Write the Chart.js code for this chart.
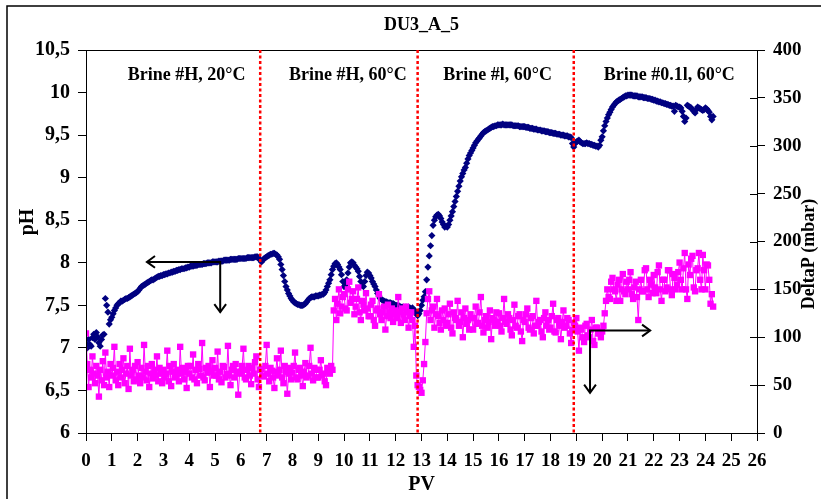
<!DOCTYPE html>
<html>
<head>
<meta charset="utf-8">
<script src="https://cdn.jsdelivr.net/npm/chart.js@4/dist/chart.umd.min.js"></script>
<style>
html, body { margin: 0; padding: 0; background: #fff; }
#wrap { width: 821px; height: 499px; }
</style>
</head>
<body>
<div id="wrap"><canvas id="chart" width="821" height="499"></canvas></div>
<script>
// PV (pore volumes injected), one reading every 0.05 PV
const pv = [
  0,0.05,0.1,0.15,0.2,0.25,0.3,0.35,0.4,0.45,0.5,0.55,0.6,0.65,0.7,0.75,0.8,0.85,0.9,0.95,
  1,1.05,1.1,1.15,1.2,1.25,1.3,1.35,1.4,1.45,1.5,1.55,1.6,1.65,1.7,1.75,1.8,1.85,1.9,1.95,
  2,2.05,2.1,2.15,2.2,2.25,2.3,2.35,2.4,2.45,2.5,2.55,2.6,2.65,2.7,2.75,2.8,2.85,2.9,2.95,
  3,3.05,3.1,3.15,3.2,3.25,3.3,3.35,3.4,3.45,3.5,3.55,3.6,3.65,3.7,3.75,3.8,3.85,3.9,3.95,
  4,4.05,4.1,4.15,4.2,4.25,4.3,4.35,4.4,4.45,4.5,4.55,4.6,4.65,4.7,4.75,4.8,4.85,4.9,4.95,
  5,5.05,5.1,5.15,5.2,5.25,5.3,5.35,5.4,5.45,5.5,5.55,5.6,5.65,5.7,5.75,5.8,5.85,5.9,5.95,
  6,6.05,6.1,6.15,6.2,6.25,6.3,6.35,6.4,6.45,6.5,6.55,6.6,6.65,6.7,6.75,6.8,6.85,6.9,6.95,
  7,7.05,7.1,7.15,7.2,7.25,7.3,7.35,7.4,7.45,7.5,7.55,7.6,7.65,7.7,7.75,7.8,7.85,7.9,7.95,
  8,8.05,8.1,8.15,8.2,8.25,8.3,8.35,8.4,8.45,8.5,8.55,8.6,8.65,8.7,8.75,8.8,8.85,8.9,8.95,
  9,9.05,9.1,9.15,9.2,9.25,9.3,9.35,9.4,9.45,9.5,9.55,9.6,9.65,9.7,9.75,9.8,9.85,9.9,9.95,
  10,10.05,10.1,10.15,10.2,10.25,10.3,10.35,10.4,10.45,10.5,10.55,10.6,10.65,10.7,10.75,10.8,10.85,10.9,10.95,
  11,11.05,11.1,11.15,11.2,11.25,11.3,11.35,11.4,11.45,11.5,11.55,11.6,11.65,11.7,11.75,11.8,11.85,11.9,11.95,
  12,12.05,12.1,12.15,12.2,12.25,12.3,12.35,12.4,12.45,12.5,12.55,12.6,12.65,12.7,12.75,12.8,12.85,12.9,12.95,
  13,13.05,13.1,13.15,13.2,13.25,13.3,13.35,13.4,13.45,13.5,13.55,13.6,13.65,13.7,13.75,13.8,13.85,13.9,13.95,
  14,14.05,14.1,14.15,14.2,14.25,14.3,14.35,14.4,14.45,14.5,14.55,14.6,14.65,14.7,14.75,14.8,14.85,14.9,14.95,
  15,15.05,15.1,15.15,15.2,15.25,15.3,15.35,15.4,15.45,15.5,15.55,15.6,15.65,15.7,15.75,15.8,15.85,15.9,15.95,
  16,16.05,16.1,16.15,16.2,16.25,16.3,16.35,16.4,16.45,16.5,16.55,16.6,16.65,16.7,16.75,16.8,16.85,16.9,16.95,
  17,17.05,17.1,17.15,17.2,17.25,17.3,17.35,17.4,17.45,17.5,17.55,17.6,17.65,17.7,17.75,17.8,17.85,17.9,17.95,
  18,18.05,18.1,18.15,18.2,18.25,18.3,18.35,18.4,18.45,18.5,18.55,18.6,18.65,18.7,18.75,18.8,18.85,18.9,18.95,
  19,19.05,19.1,19.15,19.2,19.25,19.3,19.35,19.4,19.45,19.5,19.55,19.6,19.65,19.7,19.75,19.8,19.85,19.9,19.95,
  20,20.05,20.1,20.15,20.2,20.25,20.3,20.35,20.4,20.45,20.5,20.55,20.6,20.65,20.7,20.75,20.8,20.85,20.9,20.95,
  21,21.05,21.1,21.15,21.2,21.25,21.3,21.35,21.4,21.45,21.5,21.55,21.6,21.65,21.7,21.75,21.8,21.85,21.9,21.95,
  22,22.05,22.1,22.15,22.2,22.25,22.3,22.35,22.4,22.45,22.5,22.55,22.6,22.65,22.7,22.75,22.8,22.85,22.9,22.95,
  23,23.05,23.1,23.15,23.2,23.25,23.3,23.35,23.4,23.45,23.5,23.55,23.6,23.65,23.7,23.75,23.8,23.85,23.9,23.95,
  24,24.05,24.1,24.15,24.2,24.25,24.3
];

// pH (left axis)
const ph = [
  7.05,7.00,7.10,7.04,7.02,7.12,7.16,7.10,7.18,7.13,7.06,7.02,7.10,7.15,7.16,7.58,7.50,7.42,7.28,7.33,
  7.36,7.40,7.44,7.47,7.50,7.52,7.53,7.55,7.55,7.56,7.57,7.58,7.58,7.59,7.60,7.61,7.62,7.63,7.64,7.65,
  7.66,7.68,7.70,7.72,7.73,7.74,7.75,7.76,7.77,7.78,7.79,7.80,7.80,7.81,7.82,7.83,7.84,7.84,7.85,7.85,
  7.86,7.86,7.87,7.87,7.88,7.88,7.89,7.89,7.90,7.90,7.91,7.91,7.92,7.92,7.93,7.93,7.93,7.94,7.94,7.95,
  7.95,7.96,7.96,7.96,7.97,7.97,7.97,7.98,7.98,7.98,7.98,7.99,7.99,7.99,8.00,8.00,8.00,8.00,8.01,8.01,
  8.01,8.01,8.01,8.02,8.02,8.02,8.02,8.03,8.03,8.03,8.03,8.03,8.04,8.04,8.04,8.04,8.04,8.04,8.05,8.05,
  8.05,8.05,8.05,8.05,8.05,8.06,8.06,8.06,8.06,8.06,8.06,8.07,8.07,8.07,8.05,8.03,8.01,8.03,8.05,8.06,
  8.07,8.08,8.09,8.10,8.10,8.11,8.11,8.10,8.09,8.07,8.04,7.98,7.92,7.85,7.78,7.72,7.68,7.64,7.61,7.58,
  7.56,7.54,7.53,7.52,7.51,7.51,7.50,7.50,7.50,7.51,7.52,7.54,7.56,7.58,7.59,7.60,7.60,7.60,7.61,7.61,
  7.61,7.62,7.62,7.63,7.63,7.65,7.68,7.72,7.76,7.80,7.86,7.92,7.96,7.99,8.00,7.98,7.95,7.92,7.86,7.78,
  7.72,7.74,7.80,7.88,7.95,8.00,8.01,8.00,7.97,7.95,7.93,7.90,7.84,7.78,7.73,7.72,7.78,7.85,7.89,7.88,
  7.85,7.82,7.78,7.75,7.72,7.68,7.64,7.61,7.58,7.57,7.56,7.55,7.54,7.54,7.53,7.53,7.53,7.52,7.52,7.51,
  7.50,7.50,7.49,7.49,7.48,7.48,7.48,7.47,7.48,7.47,7.48,7.47,7.46,7.47,7.45,7.42,7.40,7.38,7.40,7.44,
  7.50,7.56,7.60,7.66,7.80,7.95,8.08,8.20,8.32,8.44,8.50,8.54,8.56,8.57,8.55,8.52,8.48,8.45,8.42,8.43,
  8.42,8.45,8.50,8.55,8.60,8.66,8.72,8.78,8.84,8.90,8.96,9.01,9.05,9.09,9.12,9.17,9.22,9.26,9.29,9.32,
  9.35,9.38,9.41,9.43,9.45,9.47,9.49,9.51,9.53,9.54,9.55,9.56,9.57,9.58,9.59,9.60,9.60,9.61,9.61,9.62,
  9.62,9.62,9.62,9.63,9.62,9.62,9.62,9.62,9.62,9.62,9.62,9.61,9.61,9.61,9.61,9.61,9.60,9.60,9.60,9.60,
  9.60,9.59,9.59,9.59,9.58,9.58,9.58,9.57,9.57,9.57,9.56,9.56,9.56,9.55,9.55,9.55,9.54,9.54,9.54,9.53,
  9.53,9.53,9.52,9.52,9.52,9.51,9.51,9.51,9.50,9.50,9.50,9.49,9.49,9.49,9.48,9.48,9.47,9.40,9.36,9.40,
  9.42,9.43,9.44,9.42,9.41,9.40,9.40,9.40,9.41,9.40,9.40,9.39,9.39,9.38,9.38,9.37,9.37,9.36,9.38,9.44,
  9.48,9.55,9.61,9.66,9.70,9.74,9.77,9.80,9.83,9.85,9.87,9.89,9.90,9.91,9.92,9.93,9.94,9.95,9.96,9.96,
  9.97,9.97,9.97,9.97,9.96,9.96,9.96,9.96,9.95,9.95,9.95,9.95,9.94,9.94,9.94,9.93,9.93,9.93,9.92,9.92,
  9.91,9.91,9.90,9.90,9.89,9.89,9.88,9.88,9.87,9.87,9.86,9.86,9.85,9.85,9.84,9.84,9.78,9.85,9.84,9.83,
  9.83,9.82,9.78,9.72,9.66,9.70,9.85,9.84,9.83,9.82,9.80,9.78,9.76,9.80,9.83,9.82,9.81,9.80,9.79,9.80,
  9.82,9.81,9.79,9.77,9.72,9.68,9.72
];

// DeltaP in mbar (right axis)
const deltaP = [
  104,72,48,66,58,80,62,52,70,60,38,66,55,75,50,84,58,64,48,72,
  60,68,90,55,64,50,72,58,66,78,52,62,70,46,88,60,66,54,70,56,
  74,60,52,68,58,92,64,55,70,48,62,72,57,66,60,80,54,68,62,52,
  66,58,62,86,54,70,49,64,72,58,61,66,54,90,62,68,56,64,47,70,
  62,70,58,82,56,66,52,72,67,60,94,58,55,68,63,70,48,64,76,60,
  68,60,85,56,64,53,70,69,58,62,91,60,50,66,70,58,72,64,40,62,
  64,70,88,58,56,66,70,60,51,68,62,74,80,56,48,66,67,60,59,70,
  92,62,54,68,65,58,47,64,78,60,66,86,58,52,70,64,41,62,68,56,
  63,70,84,58,56,66,68,60,49,64,73,58,60,70,89,62,55,68,66,58,
  58,66,76,60,62,54,50,68,64,62,70,66,128,140,118,135,150,125,132,142,
  145,130,128,150,158,136,140,148,124,132,140,152,126,118,138,134,128,146,130,122,
  122,134,138,118,112,128,130,145,124,118,126,132,108,122,134,126,120,130,116,124,
  128,120,142,126,115,130,124,118,132,126,110,122,126,118,90,112,60,50,48,45,
  42,55,72,95,125,140,148,118,128,132,110,124,140,122,115,108,128,118,130,112,
  115,124,135,110,104,126,120,118,138,112,116,126,100,120,130,114,118,108,124,120,
  108,120,132,114,115,126,142,112,105,118,122,110,116,128,98,120,118,112,126,116,
  125,112,106,120,140,116,114,124,120,108,102,118,134,112,110,122,124,106,96,118,
  116,124,130,110,108,120,122,104,112,138,112,116,118,106,100,120,126,112,118,108,
  110,122,135,106,105,118,120,112,98,116,128,110,112,120,118,104,94,108,115,112,
  120,106,86,110,108,100,95,112,114,102,100,108,118,96,92,110,110,104,104,100,
  106,112,125,138,150,142,140,158,162,150,148,138,155,160,138,150,166,148,145,158,
  150,160,168,145,140,152,158,142,118,150,160,148,148,170,172,150,142,160,155,146,
  165,152,146,168,175,150,138,160,160,148,152,170,170,150,144,166,162,150,155,168,
  178,160,150,172,188,150,140,176,165,182,185,152,148,170,172,188,160,150,186,170,
  150,176,175,160,135,145,132
];

// brine switches (PV) and stage names
const switchPV = [6.75, 12.85, 18.9];
const stages = ["Brine #H, 20°C", "Brine #H, 60°C", "Brine #l, 60°C", "Brine #0.1l, 60°C"];
const stageX = [3.9, 10.15, 15.95, 22.6];

const FONT = "'Liberation Serif', 'Times New Roman', serif";

function arrowHead(ctx, x, y, dir) {
  // dir: angle the arrow points to
  const len = 10, a = Math.PI / 5;
  ctx.beginPath();
  ctx.moveTo(x - len * Math.cos(dir - a), y - len * Math.sin(dir - a));
  ctx.lineTo(x, y);
  ctx.lineTo(x - len * Math.cos(dir + a), y - len * Math.sin(dir + a));
  ctx.stroke();
}

function elbowArrow(ctx, cx, cy, hx, vy) {
  ctx.beginPath();
  ctx.moveTo(hx, cy);
  ctx.lineTo(cx, cy);
  ctx.lineTo(cx, vy);
  ctx.stroke();
  arrowHead(ctx, hx, cy, hx < cx ? Math.PI : 0);
  arrowHead(ctx, cx, vy, Math.PI / 2);
}

const decor = {
  id: "decor",
  afterDraw(c) {
    const ctx = c.ctx, a = c.chartArea;
    const x = c.scales.x, y = c.scales.y, y2 = c.scales.y2;
    ctx.save();

    // outer frame
    ctx.strokeStyle = "#000";
    ctx.lineWidth = 1.5;
    ctx.strokeRect(7, 6, 900, 600);

    // plot box
    ctx.lineWidth = 1;
    ctx.strokeRect(a.left + 0.5, a.top + 0.5, a.right - a.left, a.bottom - a.top);

    // right axis ticks reach into the plot too
    y2.ticks.forEach((t) => {
      const py = Math.round(y2.getPixelForValue(t.value)) + 0.5;
      ctx.beginPath();
      ctx.moveTo(a.right - 7, py);
      ctx.lineTo(a.right, py);
      ctx.stroke();
    });

    // brine switch lines
    ctx.strokeStyle = "#ff0000";
    ctx.lineWidth = 2.5;
    ctx.setLineDash([3, 2.5]);
    switchPV.forEach((v) => {
      const px = x.getPixelForValue(v);
      ctx.beginPath();
      ctx.moveTo(px, a.top);
      ctx.lineTo(px, a.bottom);
      ctx.stroke();
    });
    ctx.setLineDash([]);

    // stage labels
    ctx.fillStyle = "#000";
    ctx.font = "bold 18px " + FONT;
    ctx.textAlign = "center";
    ctx.textBaseline = "middle";
    stages.forEach((s, i) => ctx.fillText(s, x.getPixelForValue(stageX[i]), 75));

    // axis pointers
    ctx.strokeStyle = "#000";
    ctx.lineWidth = 2;
    elbowArrow(ctx, x.getPixelForValue(5.2), y.getPixelForValue(8.01),
      x.getPixelForValue(2.36), y.getPixelForValue(7.42));
    elbowArrow(ctx, x.getPixelForValue(19.53), y2.getPixelForValue(107),
      x.getPixelForValue(21.86), y2.getPixelForValue(42));

    // titles
    ctx.font = "bold 18px " + FONT;
    ctx.fillText("DU3_A_5", (a.left + a.right) / 2, 25);
    ctx.font = "bold 20px " + FONT;
    ctx.fillText("PV", (a.left + a.right) / 2, 485);

    ctx.save();
    ctx.translate(28, 222);
    ctx.rotate(-Math.PI / 2);
    ctx.fillText("pH", 0, 0);
    ctx.restore();

    ctx.save();
    ctx.font = "bold 18px " + FONT;
    ctx.translate(809, 254);
    ctx.rotate(-Math.PI / 2);
    ctx.fillText("DeltaP (mbar)", 0, 0);
    ctx.restore();

    ctx.restore();
  }
};

const tickFont = { family: FONT, size: 19, weight: "bold" };

new Chart(document.getElementById("chart").getContext("2d"), {
  type: "scatter",
  data: {
    datasets: [
      {
        label: "DeltaP",
        data: pv.map((v, i) => ({ x: v, y: deltaP[i] })),
        yAxisID: "y2",
        showLine: true,
        borderColor: "#ff00ff",
        backgroundColor: "#ff00ff",
        borderWidth: 1,
        pointStyle: "rect",
        pointRadius: 4.5,
        pointBorderWidth: 0,
        order: 1
      },
      {
        label: "pH",
        data: pv.map((v, i) => ({ x: v, y: ph[i] })),
        yAxisID: "y",
        showLine: false,
        borderColor: "#000080",
        backgroundColor: "#000080",
        pointStyle: "rectRot",
        pointRadius: 3.6,
        pointBorderWidth: 0,
        order: 2
      }
    ]
  },
  options: {
    responsive: false,
    animation: false,
    devicePixelRatio: 1,
    layout: { padding: { top: 50, left: 0, right: 0, bottom: 0 } },
    plugins: { legend: { display: false }, tooltip: { enabled: false } },
    scales: {
      x: {
        type: "linear",
        min: 0,
        max: 26,
        ticks: { stepSize: 1, autoSkip: false, maxRotation: 0, color: "#000", font: tickFont, padding: 9 },
        grid: { drawOnChartArea: false, tickLength: 8, color: "#000" },
        border: { color: "#000", width: 1 },
        afterFit(s) { s.height = 66; }
      },
      y: {
        position: "left",
        min: 6,
        max: 10.5,
        ticks: {
          stepSize: 0.5,
          color: "#000",
          font: { family: FONT, size: 20, weight: "bold" },
          padding: 8,
          callback: (v) => String(v).replace(".", ",")
        },
        grid: { drawOnChartArea: false, tickLength: 8, color: "#000" },
        border: { color: "#000", width: 1 },
        afterFit(s) { s.width = 86; }
      },
      y2: {
        position: "right",
        min: 0,
        max: 400,
        ticks: { stepSize: 50, color: "#000", font: tickFont, padding: 8 },
        grid: { drawOnChartArea: false, tickLength: 8, color: "#000" },
        border: { color: "#000", width: 1 },
        afterFit(s) { s.width = 64; }
      }
    }
  },
  plugins: [decor]
});
</script>
</body>
</html>
